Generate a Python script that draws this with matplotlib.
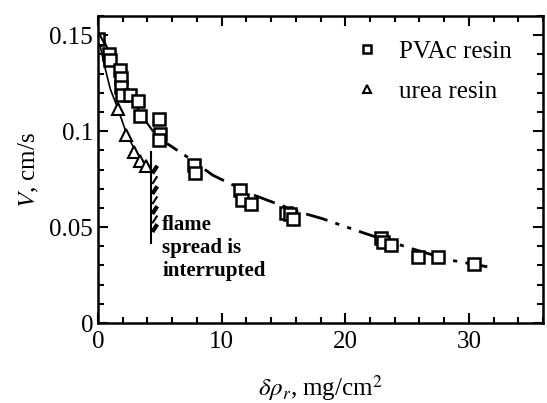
import matplotlib.pyplot as plt
import numpy as np
from matplotlib.ticker import MultipleLocator

plt.rcParams['font.family'] = ['Liberation Serif', 'DejaVu Serif']
plt.rcParams['mathtext.fontset'] = 'stix'

# PVAc resin points
pvac_x = [0.0, 0.9, 0.96, 1.77, 1.85, 1.9, 1.95, 2.57, 3.24, 3.43, 4.9, 4.98, 4.9,
          7.8, 7.87, 11.5, 11.67, 12.4, 15.2, 15.5, 15.8, 22.9, 23.05, 23.7, 25.9, 27.5, 30.4]
pvac_y = [0.1483, 0.1405, 0.137, 0.1318, 0.1276, 0.123, 0.1188, 0.1188, 0.116, 0.108,
          0.1066, 0.0988, 0.0953, 0.0823, 0.078, 0.0696, 0.064, 0.062, 0.0572, 0.0568,
          0.054, 0.0441, 0.0424, 0.0406, 0.0342, 0.0345, 0.0307]

# urea resin points
urea_x = [0.1, 1.63, 2.3, 2.9, 3.37, 3.86]
urea_y = [0.1483, 0.1118, 0.098, 0.089, 0.0845, 0.082]

# fitted curves
pvac_fit1_x = [0.0, 0.5, 1.0, 2.0, 3.0, 4.0, 4.9]
pvac_fit1_y = [0.150, 0.147, 0.140, 0.126, 0.114, 0.104, 0.096]
pvac_fit2_x = [4.9, 5.8, 7.4, 9.3, 12.6, 16.2, 18.1, 21.6, 25.3, 28.5, 31.5]
pvac_fit2_y = [0.096, 0.0927, 0.0858, 0.077, 0.0667, 0.058, 0.0545, 0.0467, 0.0389, 0.0328, 0.0293]
urea_fit_x = [0.0, 0.5, 1.0, 1.6, 2.3, 3.0, 3.7, 4.3]
urea_fit_y = [0.150, 0.135, 0.122, 0.112, 0.099, 0.090, 0.083, 0.079]

# interruption line
stop_x = 4.3
stop_y = [0.0892, 0.0415]
hatch_y = [0.0800, 0.0745, 0.0693, 0.0640, 0.0589, 0.0540, 0.0495]

fig = plt.figure(figsize=(5.47, 4.03), dpi=100)
ax = fig.add_axes([0.179, 0.1985, 0.814, 0.7615])

ax.plot(pvac_fit1_x, pvac_fit1_y, color='black', lw=1.5)
ax.plot(pvac_fit2_x, pvac_fit2_y, color='black', lw=2, dashes=[8, 3, 1.5, 3, 1.5, 3])
ax.plot(urea_fit_x, urea_fit_y, color='black', lw=1.2)

ax.plot(pvac_x, pvac_y, 's', ms=8, mfc='white', mec='black', mew=1.8, ls='none', label='PVAc resin')
ax.plot(urea_x, urea_y, '^', ms=8, mfc='white', mec='black', mew=1.5, ls='none', label='urea resin')

ax.plot([stop_x, stop_x], stop_y, color='black', lw=1.5)
for i, hy in enumerate(hatch_y):
    w = 3 if i % 2 == 0 else 1.5
    ax.plot([stop_x + 0.1, stop_x + 0.5], [hy - 0.002, hy + 0.002], color='black', lw=w,
            solid_capstyle='butt')

ax.text(5.2, 0.0565, 'flame\nspread is\ninterrupted', fontsize=15, fontweight='bold',
        va='top', ha='left', linespacing=1.2)

ax.set_xlim(0, 36)
ax.set_ylim(0, 0.16)
ax.set_xticks([0, 10, 20, 30])
ax.set_yticks([0, 0.05, 0.1, 0.15])
ax.set_yticklabels(['0', '0.05', '0.1', '0.15'])
ax.xaxis.set_minor_locator(MultipleLocator(2))
ax.yaxis.set_minor_locator(MultipleLocator(0.01))
ax.tick_params(which='both', direction='in', top=True, right=True, width=1.5, labelsize=18)
ax.tick_params(which='major', length=7)
ax.tick_params(which='minor', length=4)
ax.tick_params(axis='x', pad=6)
for s in ax.spines.values():
    s.set_linewidth(1.8)

ax.set_ylabel(r'$\mathit{V}$, cm/s', fontsize=18, labelpad=6)
ax.set_xlabel(r'$\mathit{\delta\rho_r}$, mg/cm$^2$', fontsize=18, labelpad=14)

ax.legend(loc='upper right', frameon=False, fontsize=18, handletextpad=0.3,
          markerscale=0.7, bbox_to_anchor=(0.98, 0.995), labelspacing=0.7)

fig.savefig('out.png', dpi=100)
